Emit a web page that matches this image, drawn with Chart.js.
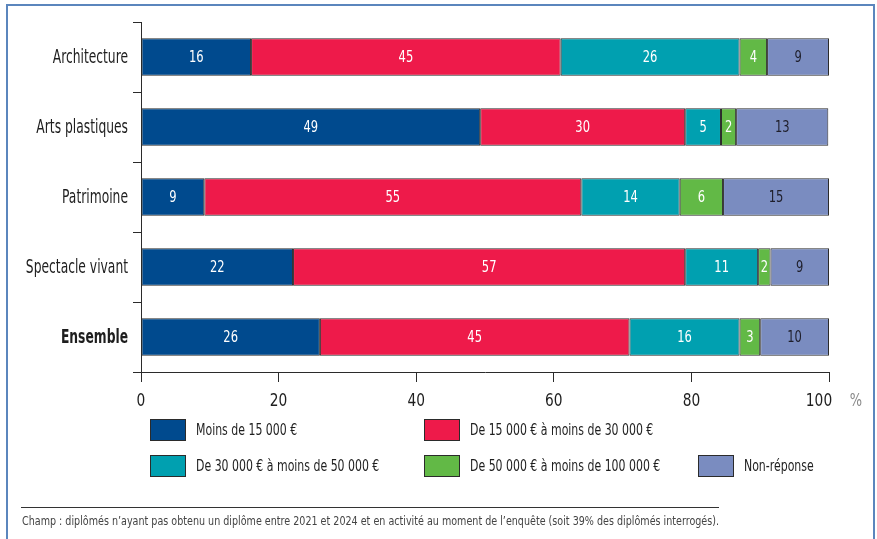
<!DOCTYPE html>
<html>
<head>
<meta charset="utf-8">
<script src="https://cdn.jsdelivr.net/npm/chart.js@4"></script>
<style>
  html, body { margin: 0; padding: 0; background: #fff; }
  #wrap { position: relative; width: 877px; height: 539px; }
</style>
</head>
<body>
<div id="wrap"><canvas id="barChart" width="877" height="539"></canvas></div>
<script>
// categories and values (in %, labels are the rounded values)
var categories = ['Architecture', 'Arts plastiques', 'Patrimoine', 'Spectacle vivant', 'Ensemble'];
var seriesNames = [
  'Moins de 15 000 €',
  'De 15 000 € à moins de 30 000 €',
  'De 30 000 € à moins de 50 000 €',
  'De 50 000 € à moins de 100 000 €',
  'Non-réponse'
];
var moins15 = [16, 49.3, 9.2, 22.1, 26];
var de15a30 = [45, 29.8, 54.8, 57.0, 45];
var de30a50 = [26, 5.2, 14.3, 10.6, 16];
var de50a100 = [4, 2.2, 6.3, 1.8, 3];
var nonReponse = [9, 13.4, 15.4, 8.5, 10];
var xTicks = [0, 20, 40, 60, 80, 100];

var colors = ['#004a8e', '#ee1a4a', '#00a0b0', '#62b946', '#7a8cc0'];
var labelColors = ['#ffffff', '#ffffff', '#ffffff', '#ffffff', '#1e1e2a'];
var FONT = '"DejaVu Sans Condensed", "Liberation Sans Narrow", sans-serif';

var allSeries = [moins15, de15a30, de30a50, de50a100, nonReponse];
var datasets = allSeries.map(function(vals, i) {
  return {
    label: seriesNames[i],
    data: vals,
    backgroundColor: colors[i],
    borderColor: '#2b2b2b',
    borderWidth: 1,
    borderSkipped: false,
    barPercentage: 0.535,
    categoryPercentage: 1
  };
});

// text squeezed horizontally to look like the condensed original font
function squeezed(ctx, text, x, y, align, font, sx, color) {
  ctx.save();
  ctx.font = font;
  ctx.fillStyle = color;
  ctx.textAlign = align;
  ctx.textBaseline = 'middle';
  ctx.translate(x, y);
  ctx.scale(sx, 1);
  ctx.fillText(text, 0, 0);
  ctx.restore();
}

// values written inside the bars
var barLabels = {
  id: 'barLabels',
  afterDatasetsDraw: function(chart) {
    var ctx = chart.ctx;
    chart.data.datasets.forEach(function(ds, i) {
      chart.getDatasetMeta(i).data.forEach(function(bar, j) {
        var c = bar.getCenterPoint();
        squeezed(ctx, String(Math.round(ds.data[j])), c.x, c.y + 1, 'center', '16px ' + FONT, 0.8, labelColors[i]);
      });
    });
  }
};

// axis labels, legend, % unit, footnote and frame
var decor = {
  id: 'decor',
  afterDraw: function(chart) {
    var ctx = chart.ctx;
    var xs = chart.scales.x, ys = chart.scales.y;

    chart.data.labels.forEach(function(lab, i) {
      var f = (i === 4 ? 'bold ' : '') + '19px ' + FONT;
      squeezed(ctx, lab, ys.right - 13, ys.getPixelForValue(i) + 1, 'right', f, 0.72, '#1e1e1e');
    });
    xTicks.forEach(function(v) {
      var x = xs.getPixelForValue(v);
      if (v === 100) x -= 10;
      squeezed(ctx, String(v), x, 401, 'center', '18px ' + FONT, 0.85, '#1e1e1e');
    });
    squeezed(ctx, '%', xs.getPixelForValue(100) + 27, 401, 'center', '18px ' + FONT, 0.8, '#8a8a8a');

    // legend
    var slots = [[150, 430], [424, 430], [150, 466], [424, 466], [698, 466]];
    chart.data.datasets.forEach(function(ds, i) {
      var s = slots[i];
      ctx.save();
      ctx.fillStyle = ds.backgroundColor;
      ctx.fillRect(s[0], s[1] - 11, 36, 22);
      ctx.strokeStyle = '#2b2b2b';
      ctx.lineWidth = 1;
      ctx.strokeRect(s[0] + 0.5, s[1] - 10.5, 35, 21);
      ctx.restore();
      squeezed(ctx, ds.label, s[0] + 46, s[1] + 1, 'left', '16px ' + FONT, 0.76, '#1e1e1e');
    });

    // footnote
    ctx.save();
    ctx.strokeStyle = '#333';
    ctx.lineWidth = 1;
    ctx.beginPath();
    ctx.moveTo(21, 507.5);
    ctx.lineTo(719, 507.5);
    ctx.stroke();
    ctx.restore();
    squeezed(ctx, 'Champ : diplômés n’ayant pas obtenu un diplôme entre 2021 et 2024 et en activité au moment de l’enquête (soit 39% des diplômés interrogés).',
      22, 522, 'left', '12px ' + FONT, 0.887, '#444');

    // frame
    ctx.save();
    ctx.strokeStyle = '#5b86bd';
    ctx.lineWidth = 2;
    ctx.beginPath();
    ctx.moveTo(7, 545);
    ctx.lineTo(7, 5);
    ctx.lineTo(874, 5);
    ctx.lineTo(874, 545);
    ctx.stroke();
    ctx.restore();
  }
};

var ctx = document.getElementById('barChart').getContext('2d');
var chart = new Chart(ctx, {
  type: 'bar',
  data: { labels: categories, datasets: datasets },
  plugins: [barLabels, decor],
  options: {
    indexAxis: 'y',
    responsive: false,
    animation: false,
    layout: { padding: { top: 22, right: 48, left: 0, bottom: 0 } },
    plugins: { legend: { display: false }, tooltip: { enabled: false } },
    scales: {
      x: {
        stacked: true,
        min: 0,
        max: 100,
        afterFit: function(s) { s.height = 167; },
        afterBuildTicks: function(s) { s.ticks = xTicks.map(function(v) { return { value: v }; }); },
        border: { display: true, color: '#2b2b2b', width: 1 },
        grid: { drawOnChartArea: false, drawTicks: true, tickLength: 10, color: '#2b2b2b' },
        ticks: { display: false }
      },
      y: {
        stacked: true,
        afterFit: function(s) { s.width = 141; },
        border: { display: true, color: '#2b2b2b', width: 1 },
        grid: { offset: true, drawOnChartArea: false, drawTicks: true, tickLength: 8, color: '#2b2b2b' },
        ticks: { display: false }
      }
    }
  }
});
</script>
</body>
</html>
